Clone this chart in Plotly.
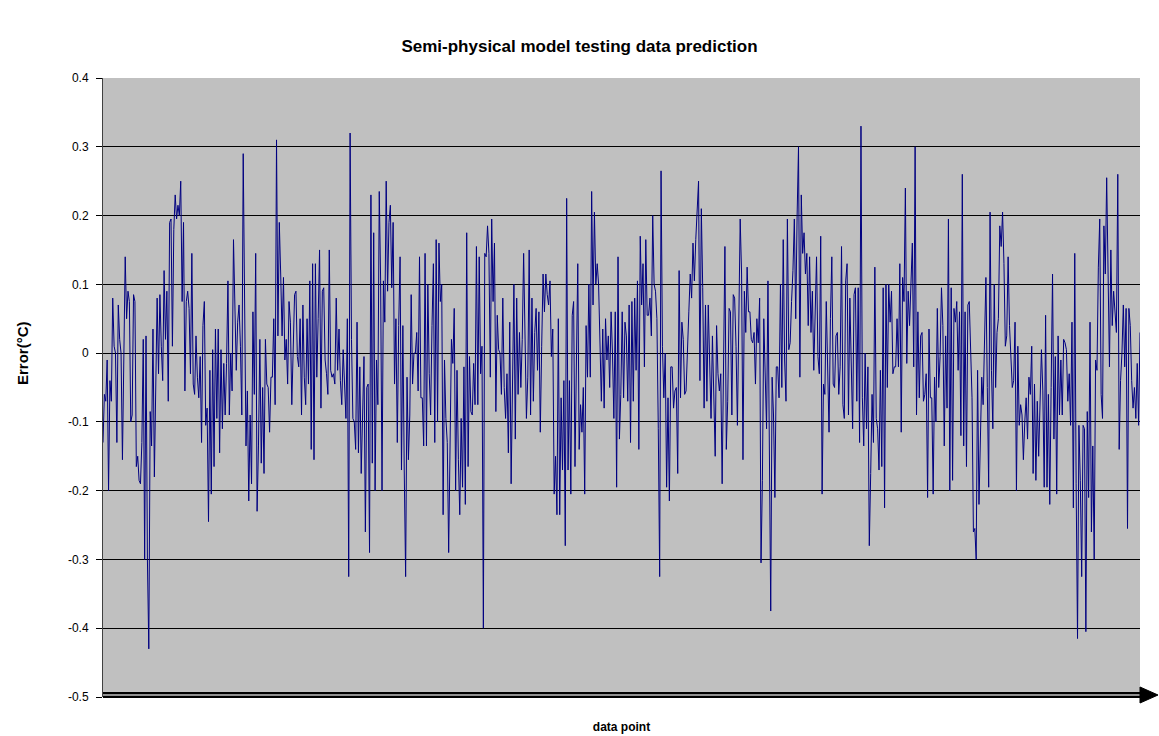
import plotly.graph_objects as go

# Error values, left to right, in segments
seg1 = [-0.13, -0.06, -0.07, -0.01, -0.20, -0.04, -0.07, 0.08, 0.01, 0.00, -0.13, 0.07, 0.02, 0.00,
        -0.155, 0.015, 0.14, 0.05, 0.09, 0.075, -0.10, -0.09, 0.085, 0.075, -0.165, -0.15, -0.185,
        -0.19, -0.13, 0.02, -0.30, 0.025, -0.30, -0.43, -0.085, -0.135, 0.035, -0.18, -0.01,
        0.08, -0.03, 0.085, 0.01, -0.04, 0.12, 0.02, 0.09, -0.07, 0.19, 0.195, 0.01,
        0.18, 0.23, 0.195, 0.215, 0.20, 0.25, 0.075, 0.19, -0.055, 0.075, 0.09, 0.065, -0.03,
        0.145, -0.045]
seg2 = [-0.06, 0.025, -0.035, -0.065, -0.005, -0.13, 0.04, 0.075, -0.105, -0.08, -0.245, -0.025,
        -0.205, 0.005, -0.165, 0.035, -0.095, 0.035, -0.145, 0.005, -0.11, -0.015, -0.09, -0.015,
        0.105, -0.09, 0.0, -0.055, 0.165, 0.065, -0.025, 0.045, 0.07, 0.01, -0.09, 0.29, 0.01,
        -0.135, -0.055, -0.215, -0.09, -0.19, 0.06, -0.06, 0.145, -0.23, -0.135, 0.02, -0.16, -0.05,
        -0.175, 0.02, -0.045, -0.05, -0.115, -0.035, -0.035, 0.05, -0.075, 0.31, 0.025, 0.19, 0.115,
        0.025, 0.11, -0.01, 0.02]
seg3 = [-0.045, 0.075, 0.045, -0.075, 0.02, 0.085, 0.09, -0.005, -0.02, 0.05, -0.09, 0.07, -0.035,
        -0.075, 0.05, -0.045, 0.105, -0.14, 0.13, -0.155, 0.13, -0.035, 0.05, 0.15, -0.08, 0.09, 0.095,
        -0.01, -0.03, -0.06, 0.15, -0.025, -0.035, -0.03, -0.045, 0.08, -0.025, 0.035, -0.04, -0.075,
        0.005, -0.06, -0.095, 0.05, -0.325, 0.32, 0.02, -0.095, -0.10, -0.14, 0.045, -0.145, -0.02,
        -0.175, -0.08, -0.005, -0.26, -0.05, -0.045, -0.29, 0.23, -0.16, 0.175, -0.20, -0.01, -0.075,
        0.235, 0.105, -0.20, 0.105, 0.045, 0.25]
seg4 = [0.09, 0.19, 0.215, 0.095, 0.19, -0.045, 0.05, -0.13, 0.04, 0.14, -0.17, 0.04, -0.17, -0.325,
        -0.035, -0.155, -0.09, 0.085, -0.045, 0.0, 0.0, 0.03, -0.055, 0.14, -0.065, -0.065, -0.135,
        0.145, -0.135, 0.10, -0.03, -0.09, 0.04, 0.13, -0.13, 0.165, -0.10, 0.16, 0.075, 0.10, -0.235,
        -0.01, -0.095, -0.13, -0.29, -0.10, 0.02, -0.015, 0.065, -0.20, -0.025, -0.155, -0.235, -0.095,
        -0.195, -0.02, -0.22, 0.175, -0.165, -0.005, -0.085, -0.09, -0.015, -0.075, 0.155, -0.075,
        0.14]
seg5 = [-0.03, 0.01, -0.40, 0.145, 0.14, 0.185, 0.145, -0.035, 0.195, 0.075, 0.16, -0.085, 0.055,
        0.005, 0.0, -0.06, 0.08, -0.05, -0.095, -0.03, -0.145, 0.045, -0.19, 0.005, 0.10, -0.125, 0.08,
        -0.06, 0.03, -0.05, 0.02, 0.145, 0.0, -0.095, -0.035, 0.15, -0.09, 0.08, -0.07, 0.03, 0.065,
        -0.025, 0.06, -0.115, 0.01, 0.115, 0.06, 0.115, 0.085, 0.07, 0.105, -0.005, 0.035, -0.205,
        -0.15, -0.235, 0.05, -0.235, -0.065, -0.17, -0.04, -0.28, 0.225, -0.17, -0.04, -0.205, 0.055,
        0.075, -0.165]
seg6 = [-0.045, 0.13, -0.14, -0.075, -0.115, -0.05, -0.205, 0.04, -0.035, 0.10, -0.035, 0.235, 0.07,
        0.205, 0.10, 0.13, 0.10, 0.005, -0.07, 0.035, -0.08, 0.05, -0.01, 0.025, -0.05, 0.06, 0.0,
        -0.095, 0.06, -0.195, 0.14, -0.125, -0.06, 0.06, -0.065, 0.045, 0.025, -0.07, 0.07, -0.13,
        0.075, -0.07, 0.08, -0.025, 0.105, -0.14, 0.17, 0.07, 0.13, -0.02, 0.165, 0.055, 0.055, 0.08,
        0.025, 0.20, 0.10, 0.09, 0.05, -0.11, -0.325, 0.265, 0.01, -0.065, 0.0, -0.195, -0.065,
        -0.215]
seg7 = [-0.02, -0.02, -0.08, -0.055, -0.05, -0.175, 0.12, -0.065, 0.045, 0.02, -0.06, -0.055, 0.015,
        0.06, 0.115, 0.08, 0.16, 0.105, 0.165, 0.20, 0.25, -0.04, 0.21, 0.095, -0.08, 0.07, -0.07,
        0.07, -0.02, -0.095, 0.025, -0.075, -0.15, 0.04, -0.03, -0.055, -0.03, -0.19, -0.03, 0.155,
        -0.14, -0.07, 0.065, 0.06, -0.09, 0.085, 0.08, 0.01, -0.105, 0.07, 0.195, 0.115, -0.155, 0.09,
        0.03, 0.125, 0.06, 0.06, 0.02, 0.015, 0.03, -0.045, 0.05, 0.015, 0.08, -0.305, -0.185, 0.05]
seg8 = [-0.045, -0.11, 0.105, -0.12, -0.375, -0.035, -0.09, -0.21, -0.02, -0.02, -0.065, 0.10, -0.05,
        0.165, -0.01, -0.07, 0.195, 0.005, 0.015, 0.075, 0.12, 0.195, 0.05, 0.20, 0.30, -0.035, 0.23,
        0.145, 0.175, 0.115, 0.145, 0.04, 0.14, 0.03, 0.09, -0.025, 0.05, 0.14, -0.005, -0.03, 0.17,
        -0.205, -0.045, -0.06, 0.075, -0.04, -0.115, 0.05, 0.14, -0.045, -0.05, 0.025, 0.03, -0.06,
        -0.02, 0.155, -0.075, -0.095, 0.105, 0.13, -0.09, 0.08, -0.035, -0.11, 0.085, 0.095, -0.07,
        0.095, -0.13]
seg9 = [0.33, -0.065, -0.135, 0.0, -0.11, -0.02, -0.28, -0.175, -0.06, -0.13, 0.125, -0.095, -0.11,
        -0.17, -0.025, -0.165, 0.095, -0.225, 0.10, -0.05, 0.10, 0.045, 0.09, -0.03, -0.02, -0.02,
        0.05, -0.02, 0.13, -0.115, 0.11, 0.075, 0.24, -0.015, 0.09, 0.04, 0.10, 0.16, -0.02, 0.30,
        -0.09, 0.06, -0.065, 0.025, 0.03, -0.07, -0.06, -0.03, -0.21, 0.035, -0.065, -0.065, -0.205,
        -0.035, -0.10, 0.065, -0.05, -0.005, 0.095, 0.04, -0.135, 0.025, -0.08, 0.195, -0.20, 0.095,
        -0.185, 0.065, 0.045]
seg10 = [0.075, -0.025, 0.06, -0.12, 0.26, -0.135, 0.06, -0.165, 0.07, 0.075, -0.01, -0.065,
         -0.26, -0.255, -0.30, -0.025, -0.22, -0.105, -0.035, -0.075, 0.03, 0.11, -0.05, -0.195, 0.205,
         -0.025, -0.11, 0.10, -0.05, 0.03, 0.05, 0.185, 0.155, 0.205, 0.13, 0.01, 0.025, 0.14, 0.04,
         -0.005, -0.05, -0.04, 0.045, -0.20, 0.01, -0.105, -0.075, -0.09, -0.155, -0.10, -0.065,
         -0.125, -0.035, -0.06, 0.01, -0.175, -0.045, -0.185, -0.07, -0.15, -0.05, 0.005, -0.055,
         -0.195, 0.055, -0.195]
seg11 = [-0.06, -0.22, -0.05, 0.115, -0.125, -0.005, -0.205, 0.025, -0.09, -0.01, -0.09, 0.02, 0.015,
         0.005, -0.07, -0.03, -0.105, 0.045, -0.225, 0.145, -0.19, -0.415, -0.105, -0.185, -0.325,
         -0.105, -0.11, -0.405, -0.085, -0.21, 0.045, -0.26, -0.135, -0.30, -0.01, -0.025, 0.125, 0.195,
         -0.06, -0.095, 0.185, 0.115, 0.255, 0.085, -0.02, 0.15, 0.04, 0.09, 0.065, 0.03, 0.26, -0.14,
         -0.04, 0.0, 0.07, -0.02, 0.065, -0.255, 0.065, 0.04, -0.04, -0.08, -0.05, -0.095, -0.015,
         -0.105, 0.03]

errors = seg1 + seg2 + seg3 + seg4 + seg5 + seg6 + seg7 + seg8 + seg9 + seg10 + seg11
points = list(range(1, len(errors) + 1))

y_ticks = [0.4, 0.3, 0.2, 0.1, 0, -0.1, -0.2, -0.3, -0.4, -0.5]
y_tick_text = ["0.4", "0.3", "0.2", "0.1", "0", "-0.1", "-0.2", "-0.3", "-0.4", "-0.5"]

FONT = "Arial, 'Liberation Sans', sans-serif"

fig = go.Figure()
fig.add_trace(go.Scatter(
    x=points, y=errors, mode="lines",
    line=dict(color="#000080", width=1),
    hoverinfo="skip", showlegend=False,
))

# plot geometry (pixels) for the arrow on the x axis
L, R, T, B = 103, 19, 78, 39
W, H = 1159, 736
pw = W - L - R
ph = H - T - B

fig.update_layout(
    width=W, height=H,
    margin=dict(l=L, r=R, t=T, b=B, autoexpand=False),
    paper_bgcolor="white",
    plot_bgcolor="#c0c0c0",
    font=dict(family=FONT, color="black", size=12),
    title=dict(text="<b>Semi-physical model testing data prediction</b>",
               x=0.5, xanchor="center", y=1 - 46 / H, yanchor="middle",
               font=dict(family=FONT, size=17, color="black")),
    xaxis=dict(range=[1, len(errors)], showgrid=False, zeroline=False, automargin=False,
               showticklabels=False, ticks="", showline=False,
               title=dict(text="<b>data point</b>", font=dict(family=FONT, size=12), standoff=25)),
    yaxis=dict(range=[-0.5, 0.4], tickvals=y_ticks, ticktext=y_tick_text, automargin=False,
               showgrid=True, gridcolor="black", gridwidth=1, zeroline=False,
               showline=True, linecolor="#404040", linewidth=1,
               ticks="outside", ticklen=6, tickcolor="black", tickwidth=1,
               ticklabelstandoff=5,
               tickfont=dict(family=FONT, size=12, color="black")),
)

# y-axis title placed like the original (centred near the 0 line)
fig.add_annotation(text="<b>Error(°C)</b>", textangle=-90, showarrow=False,
                   xref="paper", yref="paper", x=0, y=(H - B - 353) / ph,
                   xanchor="center", yanchor="middle", xshift=22 - L,
                   font=dict(family=FONT, size=15, color="black"))

# double-stroke x axis with arrow head
y0 = 2 / ph
fig.add_shape(type="line", xref="paper", yref="paper", x0=0, x1=1.0, y0=y0, y1=y0,
              line=dict(color="black", width=6), layer="above")
fig.add_shape(type="line", xref="paper", yref="paper", x0=0, x1=1.0, y0=y0, y1=y0,
              line=dict(color="#c0c0c0", width=1.5), layer="above")
ax1 = 1.0
ax2 = 1 + 18 / pw
ah = 8 / ph
fig.add_shape(type="path", xref="paper", yref="paper",
              path=f"M {ax1} {y0 - ah} L {ax2} {y0} L {ax1} {y0 + ah} Z",
              fillcolor="black", line=dict(color="black", width=1), layer="above")

fig.write_html("out.html")
